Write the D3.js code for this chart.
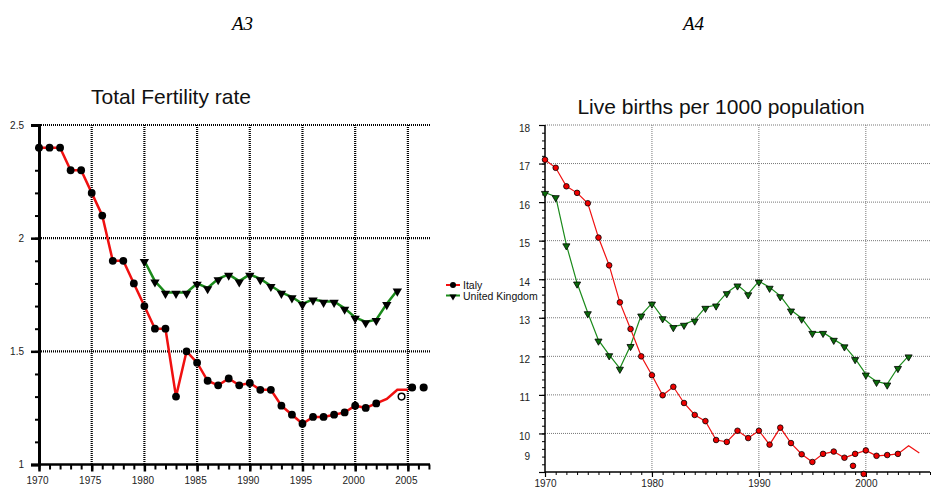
<!DOCTYPE html>
<html>
<head>
<meta charset="utf-8">
<script src="https://cdn.jsdelivr.net/npm/d3@7"></script>
<style>
  body { margin: 0; background: #fff; }
  text { font-family: Arial, "Liberation Sans", sans-serif; }
</style>
</head>
<body>
<svg id="page" width="931" height="492"></svg>
<script>
// total fertility rate (left panel)
const tfrYears = d3.range(1970, 2006)
const tfrItaly = [2.4, 2.4, 2.4, 2.3, 2.3, 2.2, 2.1, 1.9, 1.9, 1.8,
  1.7, 1.6, 1.6, 1.3, 1.5, 1.45, 1.37, 1.35, 1.38, 1.35,
  1.36, 1.33, 1.33, 1.26, 1.22, 1.18, 1.21, 1.21, 1.22, 1.23,
  1.26, 1.25, 1.27, 1.29, 1.33, 1.33]
const tfrItalyLastMarker = 2002
const tfrItalyStrayYears = [2004.4, 2005.4, 2006.5]
const tfrItalyStrayValues = [1.30, 1.34, 1.34]
const tfrUkYears = d3.range(1980, 2005)
const tfrUk = [1.9, 1.81, 1.76, 1.76, 1.76, 1.80, 1.78, 1.82, 1.84, 1.81,
  1.84, 1.82, 1.79, 1.76, 1.74, 1.71, 1.73, 1.72, 1.72, 1.69,
  1.65, 1.63, 1.64, 1.71, 1.77]

// live births per 1000 (right panel)
const birthYears = d3.range(1970, 2006)
const birthItaly = [17.1, 16.89, 16.41, 16.24, 15.97, 15.08, 14.36, 13.40, 12.71, 12.0,
  11.51, 10.99, 11.21, 10.79, 10.48, 10.32, 9.83, 9.78, 10.07, 9.88,
  10.07, 9.71, 10.15, 9.75, 9.46, 9.26, 9.47, 9.53, 9.37, 9.47,
  9.56, 9.42, 9.44, 9.47, 9.68, 9.49]
const birthItalyLastMarker = 2003
const birthItalyStrayYears = [1998.8, 1999.8]
const birthItalyStrayValues = [9.16, 8.95]
const birthUkYears = d3.range(1970, 2005)
const birthUk = [16.25, 16.14, 14.89, 13.9, 13.13, 12.42, 12.04, 11.69, 12.28, 13.07,
  13.38, 13.0, 12.77, 12.83, 12.94, 13.27, 13.33, 13.65, 13.85, 13.62,
  13.95, 13.79, 13.57, 13.20, 12.99, 12.62, 12.62, 12.44, 12.27, 11.94,
  11.54, 11.35, 11.28, 11.71, 12.01]

const seriesNames = ["Italy", "United Kingdom"]
const leftTicksY = [1, 1.5, 2, 2.5]
const leftTicksX = d3.range(1970, 2006, 5)
const rightTicksY = d3.range(9, 19)
const rightTicksX = [1970, 1980, 1990, 2000]

const svg = d3.select("#page")

// page labels
svg.append("text").attr("x", 232).attr("y", 30)
  .style("font-family", '"Liberation Serif", "Times New Roman", serif')
  .style("font-style", "italic").style("font-size", "19px").text("A3")
svg.append("text").attr("x", 683).attr("y", 30)
  .style("font-family", '"Liberation Serif", "Times New Roman", serif')
  .style("font-style", "italic").style("font-size", "19px").text("A4")

const zip = (xs, vs) => xs.map((x, i) => [x, vs[i]])

// ---------- left panel ----------
function drawLeft() {
  const x = d3.scaleLinear().domain([1970, 2007.1]).range([39, 430])
  const y = d3.scaleLinear().domain([1, 2.5]).range([464.5, 125])
  const g = svg.append("g")

  g.append("text").attr("x", 171).attr("y", 104).attr("text-anchor", "middle")
    .style("font-size", "21px").attr("fill", "#111").text("Total Fertility rate")

  // dotted grid
  g.selectAll(".vgrid").data(leftTicksX.slice(1)).join("line")
    .attr("x1", d => x(d)).attr("x2", d => x(d))
    .attr("y1", y(2.5)).attr("y2", y(1))
    .attr("stroke", "#000").attr("stroke-width", 2.2).attr("stroke-dasharray", "1,1")
  g.selectAll(".hgrid").data(leftTicksY.slice(1)).join("line")
    .attr("x1", x(1970)).attr("x2", x.range()[1])
    .attr("y1", d => y(d)).attr("y2", d => y(d))
    .attr("stroke", "#000").attr("stroke-width", 2.2).attr("stroke-dasharray", "1,1")

  // minor ticks
  g.append("g").attr("transform", `translate(${x(1970)},0)`)
    .call(d3.axisLeft(y).tickValues(d3.range(10, 26).map(d => d / 10)).tickSize(4).tickFormat(""))
    .call(a => a.select(".domain").remove())
    .call(a => a.selectAll("line").attr("stroke-width", 2))
  g.append("g").attr("transform", `translate(0,${y(1)})`)
    .call(d3.axisBottom(x).tickValues(d3.range(1970, 2008)).tickSize(5).tickFormat(""))
    .call(a => a.select(".domain").remove())
    .call(a => a.selectAll("line").attr("stroke-width", 2))

  // major axes
  g.append("g").attr("transform", `translate(${x(1970)},0)`)
    .call(d3.axisLeft(y).tickValues(leftTicksY).tickSize(8).tickPadding(7).tickFormat(d3.format("")))
    .call(a => a.select(".domain").attr("stroke-width", 3))
    .call(a => a.selectAll("line").attr("stroke-width", 2.5))
    .call(a => a.selectAll("text").style("font-size", "10px").attr("fill", "#222"))
  g.append("g").attr("transform", `translate(0,${y(1)})`)
    .call(d3.axisBottom(x).tickValues(leftTicksX).tickSize(7).tickPadding(5).tickFormat(d3.format("")))
    .call(a => a.select(".domain").attr("stroke-width", 2.5).attr("d", `M${x(1970)},0H${x.range()[1]}`))
    .call(a => a.selectAll("line").attr("stroke-width", 2.5))
    .call(a => a.selectAll("text").style("font-size", "10px").attr("fill", "#222").attr("dx", -2))

  const line = d3.line().x(d => x(d[0])).y(d => y(d[1]))

  const uk = zip(tfrUkYears, tfrUk)
  g.append("path").datum(uk).attr("d", line)
    .attr("fill", "none").attr("stroke", "#1a8a1a").attr("stroke-width", 2.5)
  g.selectAll(".ukm").data(uk).join("path")
    .attr("transform", d => `translate(${x(d[0])},${y(d[1]) + 1}) rotate(180)`)
    .attr("d", d3.symbol(d3.symbolTriangle, 38)).attr("fill", "#000")

  const it = zip(tfrYears, tfrItaly)
  g.append("path").datum(it).attr("d", line)
    .attr("fill", "none").attr("stroke", "#f01010").attr("stroke-width", 2.5)
  g.selectAll(".itm").data(it.filter(d => d[0] <= tfrItalyLastMarker)).join("circle")
    .attr("cx", d => x(d[0])).attr("cy", d => y(d[1])).attr("r", 3.9).attr("fill", "#000")
  g.selectAll(".its").data(zip(tfrItalyStrayYears, tfrItalyStrayValues)).join("circle")
    .attr("cx", d => x(d[0])).attr("cy", d => y(d[1])).attr("r", 3.3)
    .attr("fill", (d, i) => i === 0 ? "#fff" : "#000").attr("stroke", "#000").attr("stroke-width", 1.5)
}

// ---------- right panel ----------
function drawRight() {
  const x = d3.scaleLinear().domain([1970, 2006]).range([545, 930])
  const y = d3.scaleLinear().domain([9, 18]).range([472, 125])
  const g = svg.append("g")

  g.append("text").attr("x", 721).attr("y", 114).attr("text-anchor", "middle")
    .style("font-size", "21px").attr("fill", "#111").text("Live births per 1000 population")

  g.selectAll(".hgrid").data(rightTicksY.slice(1)).join("line")
    .attr("x1", x(1970)).attr("x2", x.range()[1])
    .attr("y1", d => y(d)).attr("y2", d => y(d))
    .attr("stroke", "#777").attr("stroke-width", 1).attr("stroke-dasharray", "1,1")
  g.selectAll(".vgrid").data(rightTicksX.slice(1)).join("line")
    .attr("x1", d => x(d)).attr("x2", d => x(d))
    .attr("y1", y(18)).attr("y2", y(9))
    .attr("stroke", "#777").attr("stroke-width", 1).attr("stroke-dasharray", "1,1")

  g.append("g").attr("transform", `translate(${x(1970)},0)`)
    .call(d3.axisLeft(y).tickValues(d3.range(90, 181, 2).map(d => d / 10)).tickSize(3).tickFormat(""))
    .call(a => a.select(".domain").remove())
  g.append("g").attr("transform", `translate(0,${y(9)})`)
    .call(d3.axisBottom(x).tickValues(d3.range(1970, 2007)).tickSize(3).tickFormat(""))
    .call(a => a.select(".domain").remove())

  g.append("g").attr("transform", `translate(${x(1970)},0)`)
    .call(d3.axisLeft(y).tickValues(rightTicksY).tickSize(6).tickPadding(9).tickFormat(d3.format("")))
    .call(a => a.select(".domain").attr("stroke-width", 1.5).attr("d", `M0,${y(18)}V${y(9)}`))
    .call(a => a.selectAll("line").attr("stroke-width", 1.2))
    .call(a => a.selectAll("text").style("font-size", "10px").attr("fill", "#222")
      .attr("dy", d => d === 9 ? "-1.3em" : "0.6em"))
  g.append("g").attr("transform", `translate(0,${y(9)})`)
    .call(d3.axisBottom(x).tickValues(rightTicksX).tickSize(5).tickPadding(3).tickFormat(d3.format("")))
    .call(a => a.select(".domain").attr("stroke-width", 1.5).attr("d", `M${x(1970)},0H${x.range()[1]}`))
    .call(a => a.selectAll("line").attr("stroke-width", 1.2))
    .call(a => a.selectAll("text").style("font-size", "10px").attr("fill", "#222"))

  const line = d3.line().x(d => x(d[0])).y(d => y(d[1]))

  const uk = zip(birthUkYears, birthUk)
  g.append("path").datum(uk).attr("d", line)
    .attr("fill", "none").attr("stroke", "#1a8a1a").attr("stroke-width", 1.2)
  g.selectAll(".ukm").data(uk).join("path")
    .attr("transform", d => `translate(${x(d[0])},${y(d[1]) + 1}) rotate(180)`)
    .attr("d", d3.symbol(d3.symbolTriangle, 22)).attr("fill", "#0a6a0a")
    .attr("stroke", "#000").attr("stroke-width", 0.8)

  const it = zip(birthYears, birthItaly)
  g.append("path").datum(it).attr("d", line)
    .attr("fill", "none").attr("stroke", "#f01010").attr("stroke-width", 1.2)
  g.selectAll(".itm").data(it.filter(d => d[0] <= birthItalyLastMarker)
      .concat(zip(birthItalyStrayYears, birthItalyStrayValues))).join("circle")
    .attr("cx", d => x(d[0])).attr("cy", d => y(d[1])).attr("r", 2.8)
    .attr("fill", "#e00").attr("stroke", "#000").attr("stroke-width", 0.8)
}

// ---------- legend ----------
function drawLegend() {
  const ly = d3.scalePoint().domain(seriesNames).range([285, 295.5])
  const g = svg.append("g")
  const colors = ["#f01010", "#1a8a1a"]
  seriesNames.forEach((name, i) => {
    g.append("line").attr("x1", 446).attr("x2", 460).attr("y1", ly(name)).attr("y2", ly(name))
      .attr("stroke", colors[i]).attr("stroke-width", 2)
    if (i === 0) {
      g.append("circle").attr("cx", 453).attr("cy", ly(name)).attr("r", 3).attr("fill", "#000")
    } else {
      g.append("path").attr("transform", `translate(453,${ly(name) + 1}) rotate(180)`)
        .attr("d", d3.symbol(d3.symbolTriangle, 22)).attr("fill", "#000")
    }
    g.append("text").attr("x", 463).attr("y", ly(name) + 4)
      .style("font-size", "10.5px").attr("fill", "#111").text(name)
  })
}

drawLeft()
drawRight()
drawLegend()
</script>
</body>
</html>
